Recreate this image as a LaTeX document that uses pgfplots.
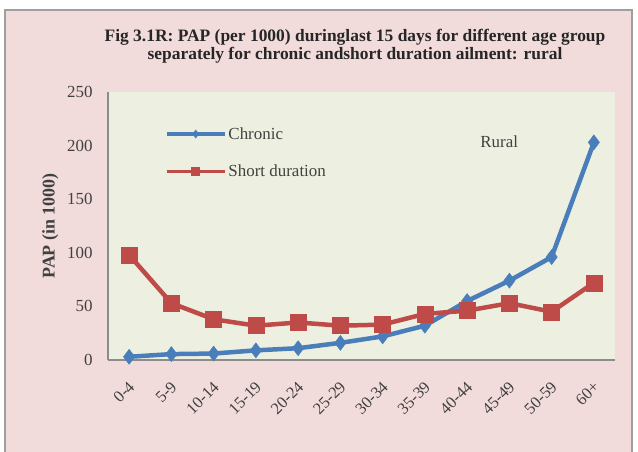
\documentclass[border=0pt]{standalone}
\usepackage{pgfplots}
\pgfplotsset{compat=1.18}
\usepackage{fontspec}
\setmainfont{Liberation Serif}
\definecolor{bgpink}{HTML}{F2DCDB}
\definecolor{plotbg}{HTML}{EDF0E0}
\definecolor{cblue}{HTML}{4A7EBB}
\definecolor{cred}{HTML}{BE4B48}
\definecolor{axgray}{HTML}{8C8C8C}
\definecolor{txt}{HTML}{404040}
\begin{document}
\begin{tikzpicture}[x=1bp,y=1bp]
\path[use as bounding box] (0,0) rectangle (638,452);
\begin{scope}
\clip (0,0) rectangle (638,452);
\fill[white] (0,0) rectangle (638,452);
\fill[bgpink, draw=gray!75, line width=2bp] (5,-10) rectangle (632,442);
\end{scope}
\node[font=\bfseries\fontsize{17.5}{18.5}\selectfont, align=center, text=black!85] at (355,406) {Fig 3.1R: PAP (per 1000) duringlast 15 days for different age group\\separately for chronic andshort duration ailment: rural};
\begin{axis}[
  at={(108bp,92bp)}, anchor=south west, scale only axis,
  width=507bp, height=268bp,
  xmin=-0.5, xmax=11.5, ymin=0, ymax=250,
  axis background/.style={fill=plotbg},
  axis x line*=bottom, axis y line*=left,
  x axis line style={-, draw=axgray, line width=2.5bp},
  y axis line style={-, draw=axgray, line width=1.5bp},
  major tick length=0pt,
  xtick={0,...,11},
  xticklabels={0-4,5-9,10-14,15-19,20-24,25-29,30-34,35-39,40-44,45-49,50-59,60+},
  xticklabel style={xshift=5bp, yshift=-22bp, rotate=45, anchor=east, font=\fontsize{16.5}{18}\selectfont, text=txt},
  ytick={0,50,...,250},
  yticklabel style={font=\fontsize{17}{18}\selectfont, text=txt, xshift=-12bp},
  /pgf/number format/assume math mode=true,
  ylabel={PAP (in 1000)},
  every axis y label/.style={at={(axis description cs:-0.114,0.5)}, rotate=90, anchor=center,
    font=\bfseries\fontsize{18}{19}\selectfont, text=txt},
  legend style={at={(rel axis cs:0.112,0.876)}, anchor=north west, draw=none, fill=none,
    font=\fontsize{17}{18}\selectfont, text=txt, row sep=20bp, inner sep=0pt},
  legend cell align=left,
  legend image code/.code={
    \draw[#1, mark=none, line width=3.5bp] (0bp,0bp) -- (58bp,0bp);
    \draw[#1, mark size=4bp] plot[only marks] coordinates {(29bp,0bp)};
  },
]
\addplot[cblue, line width=4.5bp, mark=diamond*, mark size=7.5bp, mark options={solid, fill=cblue, draw=cblue, line width=0.5bp}]
  coordinates {(0,3) (1,5.5) (2,6) (3,9) (4,11) (5,16) (6,22) (7,32) (8,55) (9,74) (10,96) (11,203)};
\addlegendentry{Chronic}
\addplot[cred, line width=4.5bp, mark=square*, mark size=8bp, mark options={solid, fill=cred, draw=cred, line width=0.5bp}]
  coordinates {(0,98) (1,53) (2,38) (3,32) (4,35) (5,32) (6,33) (7,43) (8,46) (9,53) (10,45) (11,72)};
\addlegendentry{Short duration}
\node[font=\fontsize{17}{18}\selectfont, text=txt] at (axis cs:8.76,204) {Rural};
\end{axis}
\end{tikzpicture}
\end{document}
